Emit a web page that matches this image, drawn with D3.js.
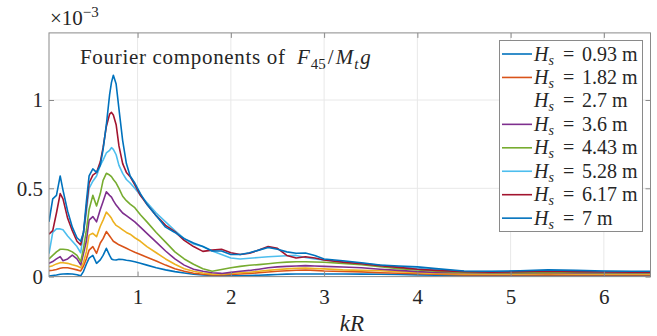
<!DOCTYPE html>
<html>
<head>
<meta charset="utf-8">
<script src="https://cdn.jsdelivr.net/npm/d3@7"></script>
<style>
body { margin: 0; background: #fff; }
</style>
</head>
<body>
<div id="chart"></div>
<script>
var kR = [0.05, 0.09, 0.13, 0.17, 0.2, 0.25, 0.3, 0.35, 0.39, 0.42,
    0.45, 0.48, 0.52, 0.56, 0.6, 0.63, 0.665, 0.7, 0.72, 0.74,
    0.77, 0.8, 0.84, 0.88, 0.92, 0.97, 1.03, 1.1, 1.2, 1.3,
    1.4, 1.5, 1.6, 1.7, 1.8, 1.9, 2.0, 2.1, 2.2, 2.3,
    2.4, 2.5, 2.6, 2.7, 2.8, 2.9, 3.0, 3.2, 3.4, 3.6,
    3.8, 4.0, 4.2, 4.5, 4.8, 5.1, 5.4, 5.7, 6.0, 6.3,
    6.5];

// values in units of 1e-3
var hs093 = [0.003, 0.006, 0.009, 0.013, 0.015, 0.016, 0.015, 0.01, 0.004, 0.03,
    0.07, 0.105, 0.12, 0.075, 0.095, 0.12, 0.16, 0.12, 0.10, 0.095,
    0.094, 0.098, 0.097, 0.093, 0.09, 0.084, 0.075, 0.065, 0.05, 0.038,
    0.028, 0.02, 0.013, 0.009, 0.006, 0.004, 0.004, 0.005, 0.006, 0.008,
    0.01, 0.012, 0.014, 0.015, 0.015, 0.015, 0.015, 0.015, 0.014, 0.013,
    0.012, 0.01, 0.008, 0.006, 0.005, 0.004, 0.004, 0.004, 0.004, 0.004,
    0.004];
var hs182 = [0.034, 0.036, 0.04, 0.047, 0.05, 0.05, 0.044, 0.038, 0.032, 0.06,
    0.10, 0.15, 0.17, 0.132, 0.19, 0.215, 0.255, 0.23, 0.215, 0.20,
    0.19, 0.18, 0.17, 0.16, 0.15, 0.138, 0.125, 0.11, 0.088, 0.065,
    0.045, 0.03, 0.019, 0.013, 0.01, 0.009, 0.012, 0.015, 0.018, 0.022,
    0.026, 0.03, 0.033, 0.036, 0.037, 0.035, 0.032, 0.029, 0.027, 0.022,
    0.019, 0.016, 0.013, 0.01, 0.009, 0.009, 0.01, 0.009, 0.009, 0.009,
    0.009];
var hs27 = [0.056, 0.062, 0.072, 0.079, 0.078, 0.075, 0.067, 0.06, 0.05, 0.08,
    0.14, 0.235, 0.245, 0.226, 0.285, 0.32, 0.365, 0.345, 0.33, 0.31,
    0.29, 0.28, 0.265, 0.25, 0.24, 0.22, 0.20, 0.17, 0.135, 0.10,
    0.07, 0.045, 0.03, 0.02, 0.014, 0.013, 0.018, 0.022, 0.025, 0.03,
    0.035, 0.04, 0.044, 0.047, 0.048, 0.046, 0.044, 0.038, 0.035, 0.033,
    0.028, 0.022, 0.018, 0.015, 0.015, 0.015, 0.016, 0.015, 0.015, 0.015,
    0.015];
var hs36 = [0.075, 0.085, 0.10, 0.113, 0.09, 0.10, 0.122, 0.10, 0.066, 0.13,
    0.20, 0.32, 0.34, 0.31, 0.38, 0.425, 0.48, 0.46, 0.45, 0.43,
    0.405, 0.385, 0.36, 0.345, 0.33, 0.31, 0.28, 0.245, 0.195, 0.145,
    0.10, 0.065, 0.042, 0.03, 0.022, 0.018, 0.024, 0.03, 0.035, 0.042,
    0.05, 0.055, 0.058, 0.06, 0.062, 0.06, 0.058, 0.054, 0.05, 0.042,
    0.035, 0.028, 0.024, 0.022, 0.02, 0.02, 0.022, 0.021, 0.02, 0.02,
    0.02];
var hs443 = [0.10, 0.12, 0.14, 0.155, 0.155, 0.152, 0.14, 0.12, 0.085, 0.16,
    0.26, 0.38, 0.46, 0.40, 0.47, 0.545, 0.585, 0.575, 0.566, 0.55,
    0.53, 0.50, 0.455, 0.43, 0.41, 0.39, 0.35, 0.31, 0.25, 0.195,
    0.14, 0.10, 0.07, 0.045, 0.03, 0.04, 0.05, 0.058, 0.064, 0.068,
    0.073, 0.078, 0.082, 0.084, 0.084, 0.083, 0.081, 0.075, 0.068, 0.056,
    0.045, 0.037, 0.03, 0.024, 0.022, 0.022, 0.024, 0.023, 0.022, 0.022,
    0.022];
var hs528 = [0.13, 0.25, 0.27, 0.27, 0.265, 0.23, 0.20, 0.17, 0.135, 0.25,
    0.36, 0.50, 0.54, 0.57, 0.63, 0.66, 0.70, 0.715, 0.73, 0.72,
    0.69, 0.63, 0.585, 0.55, 0.53, 0.50, 0.46, 0.42, 0.36, 0.31,
    0.26, 0.215, 0.185, 0.17, 0.145, 0.125, 0.105, 0.10, 0.104, 0.108,
    0.112, 0.115, 0.118, 0.12, 0.108, 0.10, 0.094, 0.084, 0.075, 0.064,
    0.055, 0.045, 0.038, 0.03, 0.028, 0.03, 0.032, 0.03, 0.028, 0.027,
    0.027];
var hs617 = [0.24, 0.26, 0.36, 0.47, 0.44, 0.33, 0.26, 0.20, 0.18, 0.25,
    0.39, 0.53, 0.575, 0.59, 0.65, 0.73, 0.85, 0.92, 0.93, 0.915,
    0.86, 0.74, 0.64, 0.59, 0.566, 0.52, 0.46, 0.41, 0.345, 0.29,
    0.255, 0.205, 0.17, 0.143, 0.15, 0.155, 0.135, 0.125, 0.132, 0.15,
    0.17, 0.16, 0.12, 0.105, 0.112, 0.105, 0.094, 0.082, 0.073, 0.062,
    0.052, 0.042, 0.035, 0.028, 0.025, 0.028, 0.03, 0.028, 0.026, 0.025,
    0.025];
var hs7 = [0.31, 0.44, 0.46, 0.57, 0.49, 0.37, 0.28, 0.22, 0.20, 0.25,
    0.42, 0.57, 0.61, 0.59, 0.63, 0.72, 0.86, 1.03, 1.10, 1.14,
    1.09, 0.95, 0.77, 0.64, 0.57, 0.53, 0.47, 0.41, 0.345, 0.28,
    0.25, 0.215, 0.19, 0.17, 0.145, 0.145, 0.125, 0.125, 0.135, 0.15,
    0.165, 0.155, 0.14, 0.132, 0.134, 0.12, 0.10, 0.09, 0.078, 0.066,
    0.06, 0.055, 0.045, 0.032, 0.03, 0.033, 0.038, 0.035, 0.032, 0.03,
    0.03];

var hsLabels = ["0.93", "1.82", "2.7", "3.6", "4.43", "5.28", "6.17", "7"];
var colors = ["#0072BD", "#D95319", "#EDB120", "#7E2F8E", "#77AC30", "#4DBEEE", "#A2142F", "#0072BD"];
var xTicks = [1, 2, 3, 4, 5, 6];
var yTicks = [0, 0.5, 1];
var yTickLabels = ["0", "0.5", "1"];

var series = [hs093, hs182, hs27, hs36, hs443, hs528, hs617, hs7];

var width = 657,
    height = 336;
var serif = "Liberation Serif, Times New Roman, Times, Nimbus Roman, FreeSerif, Noto Serif, DejaVu Serif, serif";

var svg = d3.select('#chart').append('svg')
    .attr('width', width)
    .attr('height', height)
    .style('font-family', serif)
    .style('background', '#fff');

var xScale = d3.scaleLinear().domain([0.05, 6.5]).range([49, 650.5]);
var yScale = d3.scaleLinear().domain([0, 1.38]).range([276.6, 32.9]);

var pLeft = xScale.range()[0], pRight = xScale.range()[1],
    pBottom = yScale.range()[0], pTop = yScale.range()[1];

svg.append('clipPath').attr('id', 'plotclip')
    .append('rect')
    .attr('x', pLeft).attr('y', pTop)
    .attr('width', pRight - pLeft).attr('height', pBottom - pTop);

// grid
var grid = svg.append('g');
grid.selectAll('.gx').data(xTicks).enter().append('line')
    .attr('x1', d => xScale(d)).attr('x2', d => xScale(d))
    .attr('y1', pTop).attr('y2', pBottom)
    .attr('stroke', '#e8e8e8').attr('stroke-width', 1);
grid.selectAll('.gy').data(yTicks).enter().append('line')
    .attr('x1', pLeft).attr('x2', pRight)
    .attr('y1', d => yScale(d)).attr('y2', d => yScale(d))
    .attr('stroke', '#e8e8e8').attr('stroke-width', 1);

// curves
var line = d3.line()
    .x(function(d, i) { return xScale(kR[i]); })
    .y(function(d) { return yScale(d); });

svg.append('g').attr('clip-path', 'url(#plotclip)')
    .selectAll('path').data(series).enter().append('path')
    .attr('d', line)
    .attr('fill', 'none')
    .attr('stroke', (d, i) => colors[i])
    .attr('stroke-width', 1.6)
    .attr('stroke-linejoin', 'round');

// axes
var axisColor = '#8a8a8a';
function styleAxis(g, size) {
    g.attr('font-family', null);
    g.select('.domain').remove();
    g.selectAll('.tick line').attr('stroke', axisColor);
    g.selectAll('.tick text')
        .style('font-family', serif)
        .attr('font-size', size)
        .attr('fill', '#262626');
}

svg.append('g').attr('transform', 'translate(0,' + pBottom + ')')
    .call(d3.axisBottom(xScale).tickValues(xTicks).tickSize(-5).tickSizeOuter(0).tickPadding(12).tickFormat(d3.format('d')))
    .call(g => styleAxis(g, 21));
svg.append('g').attr('transform', 'translate(0,' + pTop + ')')
    .call(d3.axisTop(xScale).tickValues(xTicks).tickSize(-5).tickSizeOuter(0).tickFormat(''))
    .call(g => styleAxis(g, 21));
svg.append('g').attr('transform', 'translate(' + pLeft + ',0)')
    .call(d3.axisLeft(yScale).tickValues(yTicks).tickSize(-5).tickSizeOuter(0).tickPadding(6)
        .tickFormat((d, i) => yTickLabels[i]))
    .call(g => styleAxis(g, 21));
svg.append('g').attr('transform', 'translate(' + pRight + ',0)')
    .call(d3.axisRight(yScale).tickValues(yTicks).tickSize(-5).tickSizeOuter(0).tickFormat(''))
    .call(g => styleAxis(g, 21));

svg.append('rect')
    .attr('x', pLeft).attr('y', pTop)
    .attr('width', pRight - pLeft).attr('height', pBottom - pTop)
    .attr('fill', 'none').attr('stroke', axisColor).attr('stroke-width', 1);

// exponent
var expo = svg.append('text').attr('x', 50).attr('y', 25).attr('font-size', 21).attr('fill', '#262626');
expo.append('tspan').text('\u00d710');
expo.append('tspan').attr('dy', -8).attr('font-size', 15).text('\u22123');

// x label
svg.append('text')
    .attr('x', 352).attr('y', 331)
    .attr('text-anchor', 'middle')
    .attr('font-size', 23)
    .attr('font-style', 'italic')
    .attr('fill', '#262626')
    .text('kR');

// title
var title = svg.append('text').attr('y', 64).attr('font-size', 21).attr('fill', '#262626');
title.append('tspan').attr('x', 80).attr('textLength', 205).attr('lengthAdjust', 'spacing').text('Fourier components of');
title.append('tspan').attr('x', 297).attr('font-style', 'italic').text('F');
title.append('tspan').attr('y', 69).attr('dx', 1).attr('font-size', 15).text('45');
title.append('tspan').attr('y', 64).attr('dx', 2).text('/');
title.append('tspan').attr('dx', 2).attr('font-style', 'italic').text('M');
title.append('tspan').attr('y', 69).attr('dx', 1).attr('font-size', 15).attr('font-style', 'italic').text('t');
title.append('tspan').attr('y', 64).attr('dx', 2).attr('font-style', 'italic').text('g');

// legend
var legend = svg.append('g');
legend.append('rect')
    .attr('x', 499.5).attr('y', 40.5)
    .attr('width', 143).attr('height', 191)
    .attr('fill', '#fff').attr('stroke', '#8a8a8a').attr('stroke-width', 1);

var rowY = d => 54 + d * 23.45;
var rows = legend.selectAll('.row').data(hsLabels).enter().append('g');
rows.append('line')
    .attr('x1', 502).attr('x2', 532)
    .attr('y1', (d, i) => rowY(i)).attr('y2', (d, i) => rowY(i))
    .attr('stroke', (d, i) => i === 2 ? '#fff' : colors[i])
    .attr('stroke-width', 1.6);
var lt = rows.append('text').attr('font-size', 20).attr('fill', '#262626')
    .attr('y', (d, i) => rowY(i) + 6.5);
lt.append('tspan').attr('x', 534).attr('font-style', 'italic').text('H');
lt.append('tspan').attr('dy', 4).attr('font-size', 14).attr('font-style', 'italic').text('s');
lt.append('tspan').attr('x', 563).attr('dy', -4).text('=');
lt.append('tspan').attr('x', 582).text(d => d + ' m');
</script>
</body>
</html>
